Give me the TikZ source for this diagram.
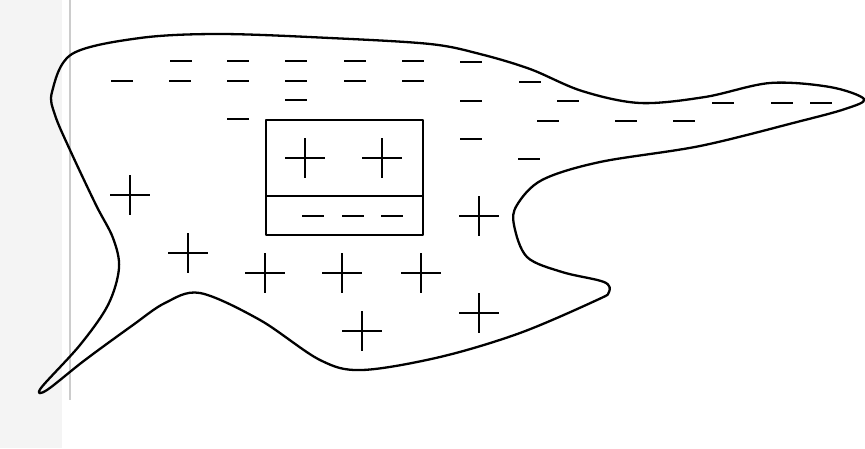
\documentclass[tikz,border=0pt]{standalone}
\begin{document}
\begin{tikzpicture}[x=1pt,y=-1pt,
  outline/.style={line width=2.3pt,line join=round},
  sign/.style={line width=2pt},
  minus/.pic={\draw[sign] (-11,0) -- (11,0);},
  plus/.pic={\draw[sign] (-20,0) -- (20,0) (0,-20) -- (0,20);}]
\useasboundingbox (0,0) rectangle (865,448);
\fill[white] (0,0) rectangle (865,448);
\fill[gray!9] (0,0) rectangle (62,448);
\draw[gray!40,line width=1.5pt] (70,0) -- (70,400);
% outline
\draw[outline] plot[smooth cycle,tension=0.55] coordinates {
 (52,92) (72,54) (140,38) (220,34) (330,38) (430,44) (480,54) (530,69)
 (582,91) (640,103) (705,97) (770,83) (830,87) (864,99) (845,109)
 (797,122) (700,146) (600,162) (542,180) (517,205) (514,225) (527,257)
 (562,272) (604,282) (609,292) (597,300) (520,333) (440,357) (362,370)
 (320,360) (260,320) (200,293) (165,303) (133,325) (85,360) (47,390) (41,388)
 (80,345) (108,305) (119,268) (113,238) (96,205) (70,150) (55,115)};
% box
\draw[outline] (266,120) rectangle (423,235);
\draw[outline] (266,196) -- (423,196);
% plus signs
\foreach \p in {(305,158),(382,158),(130,195),(188,253),(265,273),(342,273),
  (421,273),(362,331),(479,216),(479,313)}
  \pic at \p {plus};
% minus signs
\foreach \p in {(181,61),(238,61),(296,61),(355,61),(413,61),(471,62),
  (122,81),(180,81),(238,81),(296,81),(355,81),(413,81),(530,82),
  (296,100),(471,101),(568,101),(723,103),(782,103),(821,103),
  (238,119),(548,121),(626,121),(684,121),(471,139),(529,159),
  (313,216),(353,216),(392,216)}
  \pic at \p {minus};
\end{tikzpicture}
\end{document}
